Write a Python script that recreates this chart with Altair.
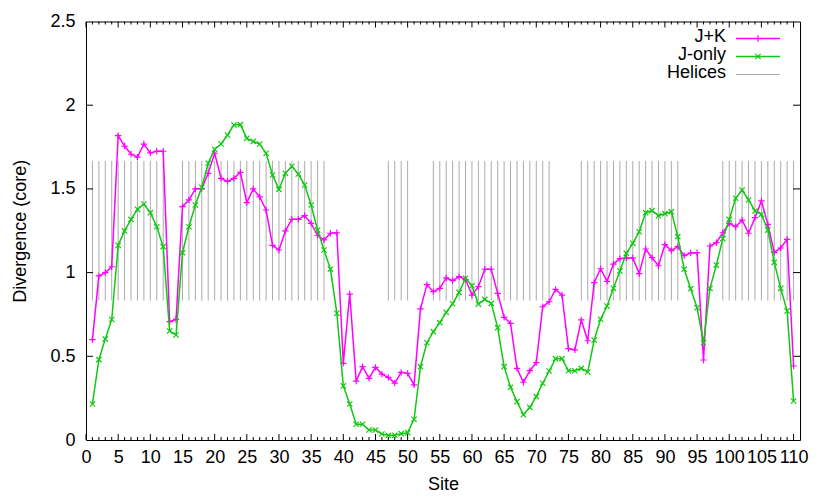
import altair as alt
import pandas as pd

# ---------------- data ----------------
sites = list(range(1, 111))

jk = [0.60, 0.98, 1.00, 1.035, 1.818, 1.756, 1.707, 1.69, 1.768, 1.715,
      1.725, 1.725, 0.707, 0.72, 1.394, 1.434, 1.50, 1.503, 1.593, 1.713,
      1.563, 1.545, 1.563, 1.599, 1.418, 1.50, 1.452, 1.374, 1.163, 1.135,
      1.249, 1.318, 1.318, 1.34, 1.294, 1.223, 1.195, 1.235, 1.238, 0.458,
      0.872, 0.352, 0.438, 0.368, 0.434, 0.394, 0.374, 0.34, 0.404, 0.398,
      0.329, 0.783, 0.928, 0.886, 0.906, 0.968, 0.952, 0.976, 0.96, 0.866,
      0.916, 1.02, 1.02, 0.876, 0.733, 0.697, 0.428, 0.345, 0.414, 0.462,
      0.796, 0.826, 0.90, 0.866, 0.546, 0.538, 0.717, 0.593, 0.94, 1.023,
      0.948, 1.051, 1.083, 1.087, 1.087, 0.994, 1.141, 1.089, 1.041, 1.167,
      1.131, 1.155, 1.101, 1.117, 1.119, 0.478, 1.159, 1.179, 1.238, 1.294,
      1.274, 1.314, 1.235, 1.328, 1.428, 1.288, 1.121, 1.147, 1.199, 0.442]

jo = [0.215, 0.48, 0.603, 0.72, 1.163, 1.249, 1.318, 1.378, 1.41, 1.358,
      1.274, 1.155, 0.651, 0.627, 1.119, 1.274, 1.404, 1.51, 1.653, 1.737,
      1.768, 1.822, 1.882, 1.884, 1.802, 1.784, 1.768, 1.713, 1.583, 1.497,
      1.593, 1.635, 1.589, 1.523, 1.404, 1.254, 1.135, 1.021, 0.757, 0.323,
      0.215, 0.094, 0.094, 0.06, 0.06, 0.036, 0.028, 0.028, 0.038, 0.044,
      0.124, 0.438, 0.581, 0.647, 0.701, 0.763, 0.814, 0.882, 0.966, 0.922,
      0.812, 0.84, 0.816, 0.671, 0.438, 0.315, 0.229, 0.151, 0.195, 0.259,
      0.339, 0.412, 0.486, 0.486, 0.414, 0.414, 0.428, 0.406, 0.597, 0.721,
      0.80, 0.906, 1.01, 1.115, 1.175, 1.244, 1.358, 1.37, 1.34, 1.352,
      1.364, 1.215, 1.02, 0.904, 0.79, 0.581, 0.906, 1.045, 1.203, 1.318,
      1.444, 1.493, 1.434, 1.368, 1.348, 1.254, 1.061, 0.906, 0.771, 0.233]

helix_segments = [(1, 12), (15, 37), (47, 50), (54, 72), (77, 92), (99, 110)]
helix_lo = 0.833
helix_hi = 1.667

x_label_values = list(range(0, 111, 5))
x_minor_values = [v for v in range(0, 111) if v % 5 != 0]
y_label_values = [0, 0.5, 1, 1.5, 2, 2.5]
y_inner_ticks = [0.5, 1, 1.5, 2]

legend_labels = ["J+K", "J-only", "Helices"]

# ---------------- style ----------------
W, H = 714, 418.5
FONT = "Liberation Sans"
FS = 18
MAGENTA = "#ff00ff"
GREEN = "#10c810"
GRAY = "#ababab"
PLUS = "M-1,0L1,0M0,-1L0,1"
CROSS = "M-1,-1L1,1M-1,1L1,-1"

xs = alt.Scale(domain=[0, 111], nice=False, zero=False)
ys = alt.Scale(domain=[0, 2.5], nice=False)

df = pd.DataFrame({"site": sites, "jk": jk, "jo": jo})
helix_sites = [s for a, b in helix_segments for s in range(a, b + 1)]
hdf = pd.DataFrame({"site": helix_sites,
                    "lo": [helix_lo] * len(helix_sites),
                    "hi": [helix_hi] * len(helix_sites)})

x_axis = alt.Axis(values=x_label_values, format="d", title="Site",
                  ticks=False, tickSize=0, domain=False, grid=False,
                  labelFont=FONT, labelFontSize=FS, labelColor="black",
                  labelPadding=22.7, labelBaseline="alphabetic",
                  labelFlush=False, labelOverlap=False,
                  titleFont=FONT, titleFontSize=FS, titleFontWeight="normal",
                  titleColor="black", titleY=49, titleBaseline="alphabetic")

y_axis = alt.Axis(values=y_label_values, format="~g", title="Divergence (core)",
                  ticks=False, tickSize=0, domain=False, grid=False,
                  labelFont=FONT, labelFontSize=FS, labelColor="black",
                  labelPadding=11, labelBaseline="middle",
                  labelFlush=False, labelOverlap=False,
                  titleFont=FONT, titleFontSize=FS, titleFontWeight="normal",
                  titleColor="black", titleX=-66, titleY=H / 2, titleAngle=270,
                  titleAlign="center", titleBaseline="middle")


def X(field):
    return alt.X(field, scale=xs, axis=x_axis)


def Y(field):
    return alt.Y(field, scale=ys, axis=y_axis)


helices = alt.Chart(hdf).mark_rule(color=GRAY, strokeWidth=1).encode(
    x=X("site:Q"), y=Y("lo:Q"), y2="hi:Q")

base = alt.Chart(df)
jk_line = base.mark_line(color=MAGENTA, strokeWidth=1.5).encode(
    x=X("site:Q"), y=Y("jk:Q"))
jk_pts = base.mark_point(shape=PLUS, filled=False, size=40, color=MAGENTA,
                         strokeWidth=1.2, opacity=1).encode(
    x=X("site:Q"), y=Y("jk:Q"))
jo_line = base.mark_line(color=GREEN, strokeWidth=1.5).encode(
    x=X("site:Q"), y=Y("jo:Q"))
jo_pts = base.mark_point(shape=CROSS, filled=False, size=28, color=GREEN,
                         strokeWidth=1.2, opacity=1).encode(
    x=X("site:Q"), y=Y("jo:Q"))

# inward ticks (gnuplot style, mirrored)
xmaj = pd.DataFrame({"site": x_label_values})
xmin = pd.DataFrame({"site": x_minor_values})
ytk = pd.DataFrame({"jk": y_inner_ticks})


def xticks(data, length):
    bottom = alt.Chart(data).mark_rule(color="black", strokeWidth=1).encode(
        x=X("site:Q"), y=alt.value(H), y2=alt.value(H - length))
    top = alt.Chart(data).mark_rule(color="black", strokeWidth=1).encode(
        x=X("site:Q"), y=alt.value(0), y2=alt.value(length))
    return [bottom, top]


yleft = alt.Chart(ytk).mark_rule(color="black", strokeWidth=1).encode(
    y=Y("jk:Q"), x=alt.value(0), x2=alt.value(7))
yright = alt.Chart(ytk).mark_rule(color="black", strokeWidth=1).encode(
    y=Y("jk:Q"), x=alt.value(W), x2=alt.value(W - 7))

# legend (top right, gnuplot style: label then sample)
leg_text_x = 640
leg_rows_text = [20, 38, 56]
leg_rows_line = [17, 35, 53]
leg_layers = []
colors = [MAGENTA, GREEN, GRAY]
shapes = [PLUS, CROSS, None]
sizes = [40, 28, None]
for i, lab in enumerate(legend_labels):
    d = pd.DataFrame({"label": [lab]})
    leg_layers.append(alt.Chart(d).mark_text(
        align="right", baseline="alphabetic", font=FONT, fontSize=FS, color="black"
    ).encode(text="label:N", x=alt.value(leg_text_x), y=alt.value(leg_rows_text[i])))
    leg_layers.append(alt.Chart(d).mark_rule(
        color=colors[i], strokeWidth=1.5 if i < 2 else 1
    ).encode(x=alt.value(650), x2=alt.value(694), y=alt.value(leg_rows_line[i])))
    if shapes[i]:
        leg_layers.append(alt.Chart(d).mark_point(
            shape=shapes[i], filled=False, size=sizes[i], color=colors[i],
            strokeWidth=1.2, opacity=1
        ).encode(x=alt.value(672), y=alt.value(leg_rows_line[i])))

layers = [helices] + xticks(xmin, 3) + xticks(xmaj, 6) + [yleft, yright,
          jk_line, jk_pts, jo_line, jo_pts] + leg_layers

chart = alt.layer(*layers).properties(
    width=W, height=H,
    padding={"left": 78, "top": 13.5, "right": 16, "bottom": 56},
    autosize=alt.AutoSizeParams(type="none"),
    background="white",
).configure_view(stroke="black", strokeWidth=1)

chart.save("out.html", embed_options={"renderer": "svg", "actions": False})
